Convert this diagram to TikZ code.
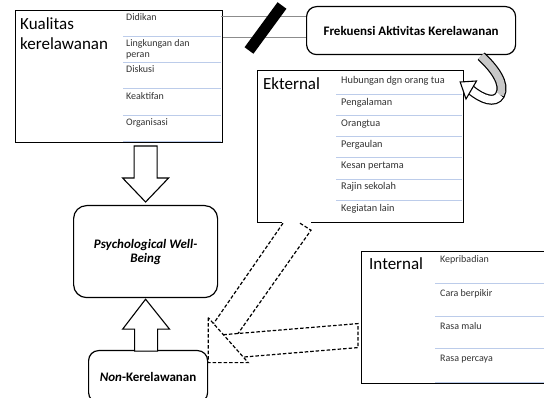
\documentclass[tikz,border=0pt]{standalone}
\usepackage{fontspec}
\setmainfont{Carlito}
\usetikzlibrary{calc}
\definecolor{rowline}{RGB}{188,204,234}
\definecolor{bandgrey}{RGB}{200,200,200}

\begin{document}
\begin{tikzpicture}[x=1pt,y=-1pt,
  box/.style={draw=black,line width=1.2pt,fill=white,inner sep=0pt,anchor=north west},
  roundbox/.style={box,rounded corners=10pt,align=center,font=\fontsize{13}{14}\selectfont\bfseries},
  title/.style={anchor=base west,inner sep=0pt,font=\fontsize{17}{19}\selectfont},
  item/.style={anchor=base west,inner sep=0pt,font=\fontsize{10}{11}\selectfont,text=black!80},
  sep/.style={draw=rowline,line width=0.9pt},
  blockarrow/.style={draw=black,line width=1.1pt,fill=white,line join=miter},
  dashedarrow/.style={draw=black,line width=1.2pt,dash pattern=on 3.5pt off 2pt},
  greyline/.style={draw=black!45,line width=0.7pt}]
  \useasboundingbox (0,0) rectangle (544,398);

  % Kualitas kerelawanan
  \node[box,minimum width=207pt,minimum height=132pt] (kual) at (15,10) {};
  \node[title] (kualt1) at (20,29.5) {Kualitas};
  \node[title] (kualt2) at (20,49.5) {kerelawanan};
  \node[item] (kual1) at (126,21) {Didikan};
  \node[item] (kual2) at (126,47) {Lingkungan dan};
  \node[item] (kual2b) at (126,57.5) {peran};
  \node[item] (kual3) at (126,73) {Diskusi};
  \node[item] (kual4) at (126,100) {Keaktifan};
  \node[item] (kual5) at (126,126) {Organisasi};
  \draw[sep] (123,36) -- (221.4,36);
  \draw[sep] (123,62) -- (221.4,62);
  \draw[sep] (123,88) -- (221.4,88);
  \draw[sep] (123,115) -- (221.4,115);
  \draw[sep] (123,141) -- (221.4,141);

  % Frekuensi
  \node[roundbox,minimum width=209pt,minimum height=48pt] (frek) at (306,6) {Frekuensi Aktivitas Kerelawanan};
  \coordinate (g1) at ($(kual.north east)+(-2,6)$);
  \coordinate (g2) at ($(kual.north east)+(0,27)$);
  \draw[greyline] (g1) -- (g1 -| frek.west);
  \draw[greyline] (g2) -- (g2 -| frek.west);
  \draw[line width=11pt] (249,50.5) -- (282,5.5);

  % Ekternal
  \node[box,minimum width=206pt,minimum height=152pt] (ekt) at (257,70) {};
  \node[title] (ektt) at (263,90) {Ekternal};
  \node[item,font=\fontsize{10.3}{11}\selectfont] (ekt1) at (341,84) {Hubungan dgn orang tua};
  \node[item,font=\fontsize{10.3}{11}\selectfont] (ekt2) at (341,105.5) {Pengalaman};
  \node[item,font=\fontsize{10.3}{11}\selectfont] (ekt3) at (341,126.5) {Orangtua};
  \node[item,font=\fontsize{10.3}{11}\selectfont] (ekt4) at (341,148) {Pergaulan};
  \node[item,font=\fontsize{10.3}{11}\selectfont] (ekt5) at (341,169) {Kesan pertama};
  \node[item,font=\fontsize{10.3}{11}\selectfont] (ekt6) at (341,190) {Rajin sekolah};
  \node[item,font=\fontsize{10.3}{11}\selectfont] (ekt7) at (341,211.5) {Kegiatan lain};
  \draw[sep] (336,94) -- (462.4,94);
  \draw[sep] (336,115.3) -- (462.4,115.3);
  \draw[sep] (336,136.5) -- (462.4,136.5);
  \draw[sep] (336,157.7) -- (462.4,157.7);
  \draw[sep] (336,179) -- (462.4,179);
  \draw[sep] (336,200.2) -- (462.4,200.2);

  % curved arrow Frekuensi -> Ekternal
  \coordinate (cstart) at ($(frek.south)+(70,1)$);
  \coordinate (ctip) at ($(ekt.north east)+(-4,12)$);
  \draw[line width=10pt,black] (cstart) .. controls (494,68) and (506,84) .. (500,95)
    .. controls (495,104) and (482,99) .. (471,90);
  \draw[line width=7.6pt,bandgrey] (cstart) .. controls (494,68) and (506,84) .. (500,95);
  \draw[line width=7.6pt,white] (500,95) .. controls (495,104) and (482,99) .. (471,90);
  \draw[blockarrow] (476.5,81) -- (ctip) -- (466,99) -- cycle;

  % Internal
  \node[box,minimum width=189pt,minimum height=132pt] (int) at (361,251) {};
  \node[title] (intt) at (369,270) {Internal};
  \node[item] (int1) at (440,263) {Kepribadian};
  \node[item] (int2) at (440,297) {Cara berpikir};
  \node[item] (int3) at (440,330) {Rasa malu};
  \node[item] (int4) at (440,362) {Rasa percaya};
  \draw[sep] (435,283) -- (550,283);
  \draw[sep] (435,316) -- (550,316);
  \draw[sep] (435,348) -- (550,348);
  \draw[sep] (435,382) -- (550,382);

  % Psychological Well-Being and Non-Kerelawanan
  \node[roundbox,rounded corners=13pt,minimum width=144pt,minimum height=92pt,font=\fontsize{13}{14}\selectfont\bfseries\itshape] (psy) at (73,205) {Psychological Well-\\Being};
  \node[roundbox,minimum width=119pt,minimum height=52pt] (non) at (88,350) {\textit{Non}-Kerelawanan};

  % block arrows
  \draw[blockarrow] ($(psy.north)+(0,-3)$) -- ++(23,-24) -- ++(-11.5,0) -- ++(0,-32)
    -- ++(-23,0) -- ++(0,32) -- ++(-11.5,0) -- cycle;
  \draw[blockarrow] ($(psy.south)+(0,1)$) -- ++(24,30) -- ++(-12,0) -- ++(0,22)
    -- ++(-23,0) -- ++(0,-22) -- ++(-12,0) -- cycle;

  % dashed arrows to Non-Kerelawanan
  \coordinate (ea) at ($(ekt.south west)+(26,0)$);
  \coordinate (eb) at ($(ekt.south west)+(43,0)$);
  \coordinate (ec) at ($(ekt.south west)+(54,7)$);
  \coordinate (hA) at ($(non.east)+(0,-59)$);
  \coordinate (hB) at ($(non.east)+(0,-14)$);
  \coordinate (hC) at ($(non.east)+(40,-14)$);
  \coordinate (hL) at ($(hA)!0.133!(hC)$);
  \coordinate (ia) at ($(int.west)+(-3,6)$);
  \coordinate (ib) at ($(int.west)+(-3,30)$);
  \coordinate (i2) at ($(hA)!0.38!(hC)$);
  \coordinate (i3) at ($(hA)!0.877!(hC)$);
  \coordinate (e1end) at ($(ia)!0.891!(i2)$);
  \fill[white] ($(ea)+(-1,-1.6)$) rectangle ($(ec)+(0,-5)$);
  \draw[dashedarrow] (ea) -- (hL);
  \draw[dashedarrow] (eb) -- (ec) -- (e1end);
  \draw[dashedarrow] (hA) -- (hB) -- (hC) -- cycle;
  \draw[dashedarrow] (i2) -- (ia) -- (ib) -- (i3);
\end{tikzpicture}
\end{document}
